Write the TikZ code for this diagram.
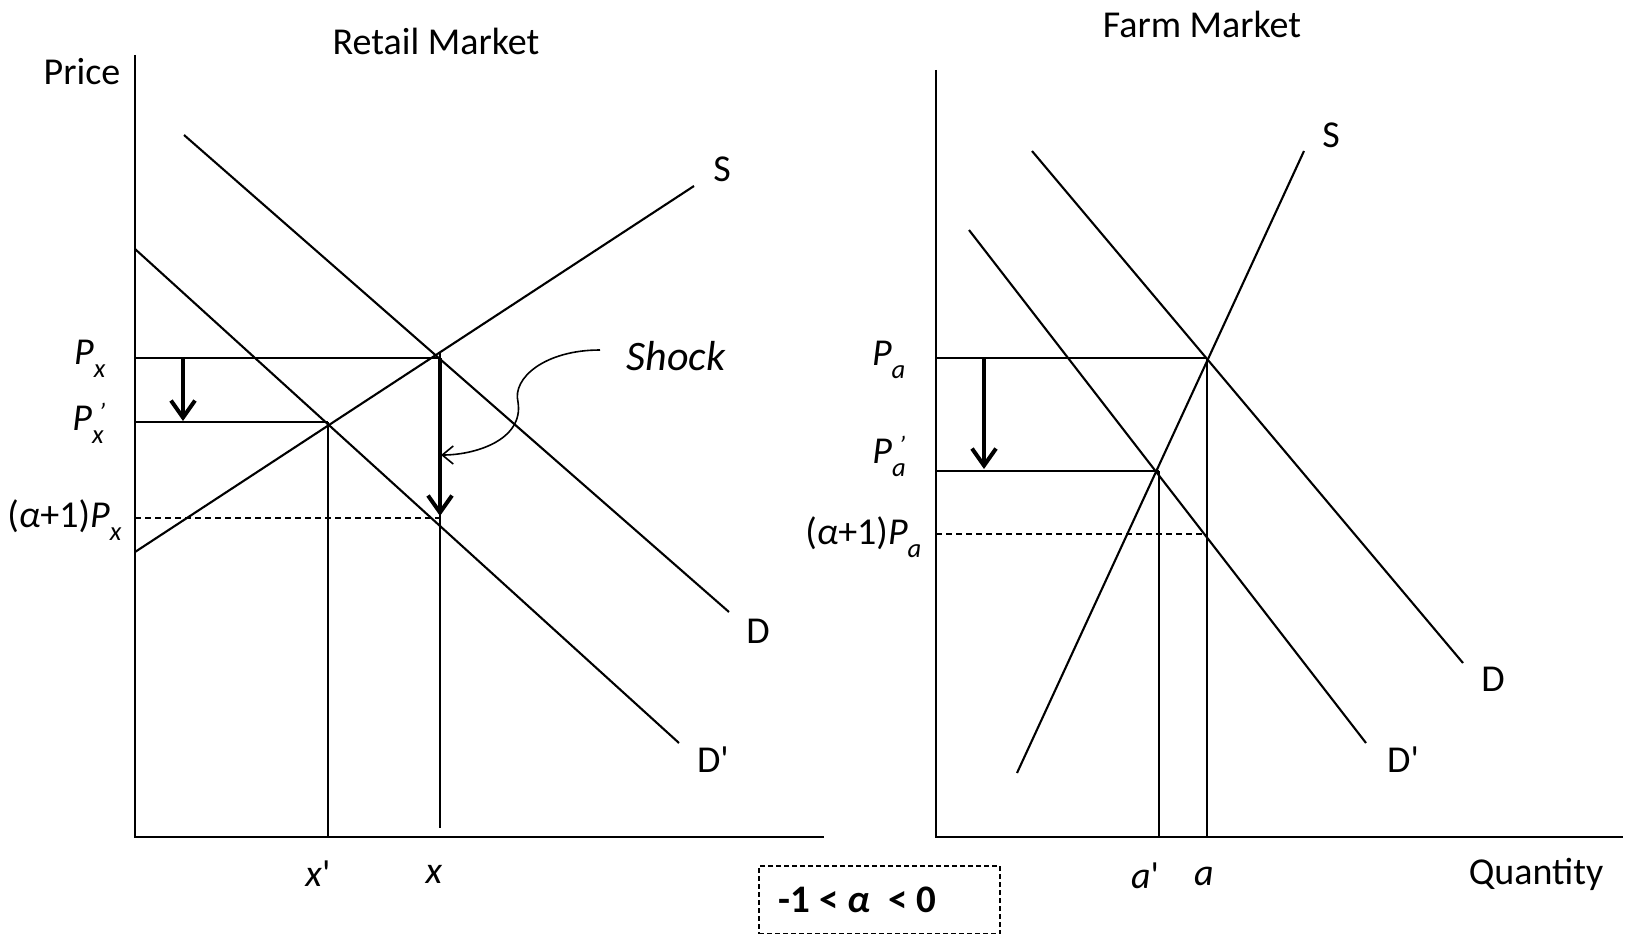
\documentclass[tikz,border=0pt]{standalone}
\usepackage{fontspec}
\setmainfont{Carlito}
\newfontfamily\plainfont{Carlito}
\usetikzlibrary{arrows.meta}
\newcommand{\sq}{{\plainfont\char"27}}
\newcommand{\Psub}[1]{\textit{P}\textsubscript{\raisebox{-0.35em}{\itshape #1}}}
\newcommand{\Psubp}[1]{\textit{P}\rlap{\textsubscript{\raisebox{-0.35em}{\itshape #1}}}\textsuperscript{\itshape\kern0.25em'}}
\begin{document}
\begin{tikzpicture}[x=1pt,y=-1pt,
  curve/.style={line width=2.1pt},
  axis/.style={line width=2.6pt},
  guide/.style={line width=2.1pt},
  dguide/.style={line width=1.8pt, dash pattern=on 6pt off 4pt},
  shiftarrow/.style={line width=4pt,-{Straight Barb[length=17pt,width=24pt,line width=4pt]}},
  lbl/.style={font=\fontsize{38}{44}\selectfont, inner sep=0pt},
  shocklbl/.style={font=\fontsize{42}{48}\selectfont\itshape, inner sep=0pt},
  boxlbl/.style={font=\fontsize{39}{44}\selectfont\bfseries, draw, line width=1.6pt, dash pattern=on 5pt off 3pt, minimum width=241pt, minimum height=68pt, inner sep=0pt},
]
\useasboundingbox (0,0) rectangle (1625,934);

% ---------- Retail market ----------
\coordinate (LT) at (135,55);
\coordinate (LO) at (135,837);
\coordinate (LR) at (824,837);
\draw[axis] (LT) -- (LO) -- (LR);

\coordinate (LS1) at (135,552);  \coordinate (LS2) at (694,186);
\coordinate (LD1) at (184,135);  \coordinate (LD2) at (729,612);
\coordinate (LE1) at (135,249);  \coordinate (LE2) at (679,743);
\draw[curve] (LS1) -- (LS2);
\draw[curve] (LD1) -- (LD2);
\draw[curve] (LE1) -- (LE2);

\coordinate (LPx0) at (135,358);  \coordinate (LPx1) at (440,358);
\coordinate (LPp0) at (135,422);  \coordinate (LPp1) at (328,422);
\coordinate (LPa0) at (135,518);  \coordinate (LPa1) at (440,518);
\coordinate (LXt) at (440,352);   \coordinate (LXb) at (440,828);
\coordinate (LXpb) at (328,837);
\draw[guide] (LPx0) -- (LPx1);
\draw[guide] (LPp0) -- (LPp1);
\draw[dguide] (LPa0) -- (LPa1);
\draw[guide] (LXt) -- (LXb);
\draw[guide] (LPp1) -- (LXpb);

\coordinate (LA1s) at (183,358); \coordinate (LA1e) at (183,421);
\draw[shiftarrow] (LA1s) -- (LA1e);
\coordinate (LA2s) at (440,358); \coordinate (LA2e) at (440,516);
\draw[shiftarrow] (LA2s) -- (LA2e);

\node[shocklbl] (shock) at (676,356) {Shock};
\coordinate (shk0) at (600,350);
\coordinate (shkm) at (518,402);
\coordinate (shk1) at (441,455);
\draw[line width=1.6pt,-{Straight Barb[length=11pt,width=18pt,line width=1.6pt]}]
  (shk0) .. controls (545,350) and (512,378) .. (shkm)
         .. controls (524,440) and (475,455) .. (shk1);

\node[lbl] (ttlL) at (436,41) {Retail Market};
\node[lbl] (price) at (82,72) {Price};
\node[lbl] (SL) at (722,169) {S};
\node[lbl] (DL) at (758,631) {D};
\node[lbl] (DpL) at (713,760) {D\sq};
\node[lbl] (xp) at (318,874) {\textit{x}\sq};
\node[lbl] (xx) at (434,874) {\textit{x}};
\node[lbl,anchor=east] (Px) at (106,359) {\Psub{x}};
\node[lbl,anchor=east] (Pxp) at (106,423) {\Psubp{x}};
\node[lbl,anchor=east] (aPx) at (122,520) {(\textit{α}+1)\Psub{x}};

% ---------- Farm market ----------
\coordinate (RT) at (936,70);
\coordinate (RO) at (936,837);
\coordinate (RR) at (1623,837);
\draw[axis] (RT) -- (RO) -- (RR);

\coordinate (RS1) at (1017,773);  \coordinate (RS2) at (1304,151);
\coordinate (RD1) at (1032,151);  \coordinate (RD2) at (1463,663);
\coordinate (RE1) at (969,230);   \coordinate (RE2) at (1366,743);
\draw[curve] (RS1) -- (RS2);
\draw[curve] (RD1) -- (RD2);
\draw[curve] (RE1) -- (RE2);

\coordinate (RPa0) at (936,358);  \coordinate (RPa1) at (1207,358);
\coordinate (RPp0) at (936,471);  \coordinate (RPp1) at (1159,471);
\coordinate (RPq0) at (936,534);  \coordinate (RPq1) at (1207,534);
\coordinate (RAb) at (1207,837);  \coordinate (RApb) at (1159,837);
\draw[guide] (RPa0) -- (RPa1);
\draw[guide] (RPp0) -- (RPp1);
\draw[dguide] (RPq0) -- (RPq1);
\draw[guide] (RPa1) -- (RAb);
\draw[guide] (RPp1) -- (RApb);

\coordinate (RA1s) at (984,358); \coordinate (RA1e) at (984,469);
\draw[shiftarrow] (RA1s) -- (RA1e);

\node[lbl] (ttlR) at (1202,24) {Farm Market};
\node[lbl] (SR) at (1331,135) {S};
\node[lbl] (DR) at (1493,679) {D};
\node[lbl] (DpR) at (1403,760) {D\sq};
\node[lbl] (ap) at (1145,876) {\textit{a}\sq};
\node[lbl] (aa) at (1204,876) {\textit{a}};
\node[lbl] (qty) at (1536,874) {Quantity};
\node[lbl,anchor=east] (Pa) at (906,360) {\Psub{a}};
\node[lbl,anchor=east] (Pap) at (906,456) {\Psubp{a}};
\node[lbl,anchor=east] (aPa) at (922,537) {(\textit{α}+1)\Psub{a}};

% ---------- condition box ----------
\node[boxlbl] (cond) at (879.5,900) {\kern-44pt-1 < \textit{α}\ \ < 0};
\end{tikzpicture}
\end{document}
